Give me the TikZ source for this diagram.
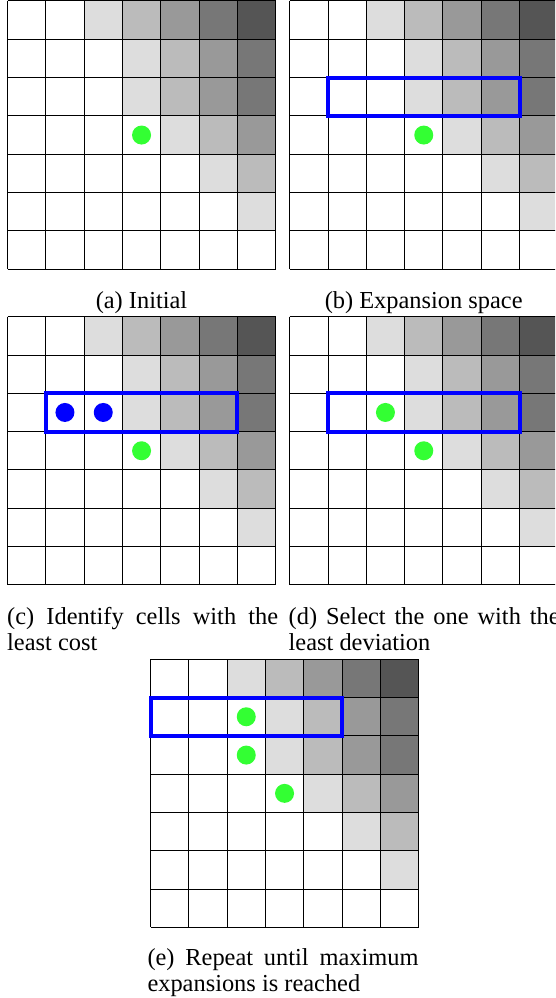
\documentclass[tikz,border=0pt]{standalone}
\usepackage{fontspec}
\setmainfont{Liberation Serif}
\definecolor{lvA}{HTML}{DDDDDD}
\definecolor{lvB}{HTML}{BBBBBB}
\definecolor{lvC}{HTML}{999999}
\definecolor{lvD}{HTML}{777777}
\definecolor{lvE}{HTML}{555555}
\definecolor{dotgreen}{HTML}{33FF33}
\definecolor{dotblue}{HTML}{0000FF}
\newcommand{\capsize}{\fontsize{24.4}{26}\selectfont}
\def\cs{38.3}
\tolerance=10000
\pretolerance=-1
\hbadness=10000
\tikzset{
  gridline/.style={draw=black, line width=1pt},
  expbox/.style={draw=dotblue, line width=4pt},
  gdot/.style={fill=dotgreen},
  bdot/.style={fill=dotblue},
  capcenter/.style={font=\capsize, inner sep=0pt, anchor=base},
  capjust/.style={font=\capsize, inner sep=0pt, text width=271pt, align=justify, anchor=base west},
  costgrid/.pic={
    \foreach \r/\o in {0/1,1/2,2/2,3/3,4/4,5/5,6/6}{
      \foreach \c in {0,...,6}{
        \pgfmathtruncatemacro\lv{\c-\o}
        \ifnum\lv=1 \fill[lvA] (\c*\cs,\r*\cs) rectangle ++(\cs,\cs); \fi
        \ifnum\lv=2 \fill[lvB] (\c*\cs,\r*\cs) rectangle ++(\cs,\cs); \fi
        \ifnum\lv=3 \fill[lvC] (\c*\cs,\r*\cs) rectangle ++(\cs,\cs); \fi
        \ifnum\lv=4 \fill[lvD] (\c*\cs,\r*\cs) rectangle ++(\cs,\cs); \fi
        \ifnum\lv=5 \fill[lvE] (\c*\cs,\r*\cs) rectangle ++(\cs,\cs); \fi
      }
    }
    \foreach \i in {0,...,7}{
      \draw[gridline] (\i*\cs,0) -- (\i*\cs,7*\cs);
      \draw[gridline] (0,\i*\cs) -- (7*\cs,\i*\cs);
    }
  }
}
\begin{document}
\begin{tikzpicture}[x=1pt, y=-1pt]
  \useasboundingbox (0,0) rectangle (555,998);
  \clip (0,0) rectangle (555,998);
  \fill[white] (0,0) rectangle (555,998);

  % (a) Initial
  \begin{scope}[shift={(7.5,1)}]
    \pic {costgrid};
    \fill[gdot] (3.5*\cs,3.5*\cs) circle[radius=9.5];
  \end{scope}

  % (b) Expansion space
  \begin{scope}[shift={(289.7,1)}]
    \pic {costgrid};
    \draw[expbox] (1*\cs,2*\cs) rectangle (6*\cs,3*\cs);
    \fill[gdot] (3.5*\cs,3.5*\cs) circle[radius=9.5];
  \end{scope}

  % (c) Identify cells with the least cost
  \begin{scope}[shift={(7.5,316.7)}]
    \pic {costgrid};
    \draw[expbox] (1*\cs,2*\cs) rectangle (6*\cs,3*\cs);
    \fill[bdot] (1.5*\cs,2.5*\cs) circle[radius=9.5];
    \fill[bdot] (2.5*\cs,2.5*\cs) circle[radius=9.5];
    \fill[gdot] (3.5*\cs,3.5*\cs) circle[radius=9.5];
  \end{scope}

  % (d) Select the one with the least deviation
  \begin{scope}[shift={(289.7,316.7)}]
    \pic {costgrid};
    \draw[expbox] (1*\cs,2*\cs) rectangle (6*\cs,3*\cs);
    \fill[gdot] (2.5*\cs,2.5*\cs) circle[radius=9.5];
    \fill[gdot] (3.5*\cs,3.5*\cs) circle[radius=9.5];
  \end{scope}

  % (e) Repeat until maximum expansions is reached
  \begin{scope}[shift={(150.5,659.3)}]
    \pic {costgrid};
    \draw[expbox] (0,1*\cs) rectangle (5*\cs,2*\cs);
    \fill[gdot] (2.5*\cs,1.5*\cs) circle[radius=9.5];
    \fill[gdot] (2.5*\cs,2.5*\cs) circle[radius=9.5];
    \fill[gdot] (3.5*\cs,3.5*\cs) circle[radius=9.5];
  \end{scope}

  % captions
  \node[capcenter] (capa) at (141.5,308.3) {(a) Initial};
  \node[capcenter] (capb) at (423.7,308.3) {(b) Expansion space};
  \node[capjust] (capc) at (7,624) {(c) Identify cells with the least cost};
  \node[capjust] (capd) at (288.5,624) {(d) Select the one with the least deviation};
  \node[capjust] (cape) at (147.3,965) {(e) Repeat until maximum expansions is reached};
\end{tikzpicture}
\end{document}
